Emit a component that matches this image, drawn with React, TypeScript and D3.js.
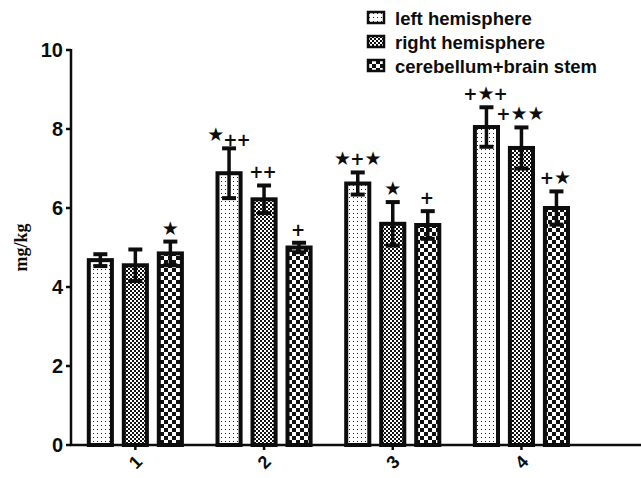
import React, { useEffect } from "react";
import * as d3 from "d3";

const groups = ["1", "2", "3", "4"];
const series = ["left hemisphere", "right hemisphere", "cerebellum+brain stem"];
const means = [
  [4.68, 4.55, 4.85],
  [6.88, 6.22, 5.0],
  [6.62, 5.6, 5.57],
  [8.05, 7.52, 6.0],
];
const errors = [
  [0.15, 0.4, 0.3],
  [0.63, 0.35, 0.12],
  [0.28, 0.55, 0.35],
  [0.5, 0.52, 0.42],
];
const marks = [
  ["", "", "★"],
  ["★++", "++", "+"],
  ["★+★", "★", "+"],
  ["+★+", "+★★", "+★"],
];
const yTicks = [0, 2, 4, 6, 8, 10];
const patternIds = ["pDots", "pFine", "pCoarse"];

const W = 641;
const H = 478;
const ink = "#0d0d0d";

function Mark({ x, y, text }: { x: number; y: number; text: string }) {
  // star first then lower plus signs (as in "★++")
  const lowered = text.startsWith("★+") && text.endsWith("++");
  return (
    <text x={x} y={y} textAnchor="middle" fill={ink} fontFamily="DejaVu Sans" fontWeight="bold">
      {text.split("").map((c, i) => (
        <tspan
          key={i}
          fontSize={c === "★" ? 19 : 17}
          dy={lowered && i === 1 ? 5 : 0}
          dx={c === "+" ? -1 : 0}
        >
          {c}
        </tspan>
      ))}
    </text>
  );
}

export default function App() {
  useEffect(() => {
    document.body.style.margin = "0";
  }, []);

  const x = d3.scaleBand<string>().domain(groups).range([71, 71 + 4 * 128.7]);
  const sub = d3
    .scaleBand<string>()
    .domain(series)
    .range([-52.5, 52.5])
    .paddingInner(0.34)
    .paddingOuter(0.17);
  const y = d3.scaleLinear().domain([0, 10]).range([445, 50]);
  const cap = 14;

  return (
    <svg width={W} height={H} style={{ display: "block", background: "#fff" }}>
      <defs>
        <pattern id="pDots" width={4} height={4} patternUnits="userSpaceOnUse">
          <rect width={4} height={4} fill="#fff" />
          <rect x={1} y={1} width={1} height={1} fill="#222" />
        </pattern>
        <pattern id="pFine" width={4} height={4} patternUnits="userSpaceOnUse">
          <rect width={4} height={4} fill="#fff" />
          <rect x={0} y={0} width={2} height={2} fill="#111" />
          <rect x={2} y={2} width={2} height={2} fill="#111" />
        </pattern>
        <pattern id="pCoarse" width={8} height={8} patternUnits="userSpaceOnUse">
          <rect width={8} height={8} fill="#fff" />
          <rect x={0} y={0} width={4} height={4} fill="#111" />
          <rect x={4} y={4} width={4} height={4} fill="#111" />
        </pattern>
      </defs>

      {/* bars */}
      {groups.map((g, gi) =>
        series.map((s, si) => {
          const cx = (x(g) as number) + x.bandwidth() / 2;
          const bx = cx + (sub(s) as number);
          const bw = sub.bandwidth();
          const mid = bx + bw / 2;
          const m = means[gi][si];
          const e = errors[gi][si];
          return (
            <g key={g + s}>
              <rect
                x={bx}
                y={y(m)}
                width={bw}
                height={y(0) - y(m)}
                fill={`url(#${patternIds[si]})`}
                stroke={ink}
                strokeWidth={4}
              />
              <line x1={mid} x2={mid} y1={y(m - e)} y2={y(m + e)} stroke={ink} strokeWidth={3.5} />
              <line x1={mid - cap / 2} x2={mid + cap / 2} y1={y(m + e)} y2={y(m + e)} stroke={ink} strokeWidth={4} />
              <line x1={mid - cap / 2} x2={mid + cap / 2} y1={y(m - e)} y2={y(m - e)} stroke={ink} strokeWidth={4} />
              {marks[gi][si] && <Mark x={mid} y={y(m + e) - 7} text={marks[gi][si]} />}
            </g>
          );
        })
      )}

      {/* y axis */}
      <line x1={71} x2={71} y1={y(10) - 1} y2={y(0)} stroke={ink} strokeWidth={2.5} />
      {yTicks.map((t) => (
        <g key={t}>
          <line x1={66} x2={71} y1={y(t)} y2={y(t)} stroke={ink} strokeWidth={2.5} />
          <text
            x={63}
            y={y(t)}
            dy="0.36em"
            textAnchor="end"
            fontFamily="Liberation Sans, Arial"
            fontWeight="bold"
            fontSize={20}
            fill={ink}
          >
            {t}
          </text>
        </g>
      ))}
      <text
        transform={`translate(27,${(y(0) + y(10)) / 2}) rotate(-90)`}
        textAnchor="middle"
        fontFamily="Liberation Serif, Times New Roman"
        fontWeight="bold"
        fontSize={18}
        fill={ink}
      >
        mg/kg
      </text>

      {/* x axis */}
      <line x1={70} x2={W} y1={y(0)} y2={y(0)} stroke={ink} strokeWidth={2.5} />
      {groups.map((g) => {
        const cx = (x(g) as number) + x.bandwidth() / 2;
        return (
          <g key={g}>
            <line x1={cx} x2={cx} y1={y(0)} y2={y(0) + 5} stroke={ink} strokeWidth={2.5} />
            <text
              transform={`translate(${cx},${y(0) + 17}) rotate(-45)`}
              textAnchor="middle"
              dy="0.35em"
              fontFamily="Liberation Sans, Arial"
              fontWeight="bold"
              fontSize={18}
              fill={ink}
            >
              {g}
            </text>
          </g>
        );
      })}

      {/* legend */}
      {series.map((s, si) => (
        <g key={s} transform={`translate(368,${12 + si * 24})`}>
          <rect x={0} y={0} width={16} height={11} fill={`url(#${patternIds[si]})`} stroke={ink} strokeWidth={2.5} />
          <text
            x={27}
            y={6}
            dy="0.36em"
            fontFamily="Liberation Sans, Arial"
            fontWeight="bold"
            fontSize={18.5}
            fill={ink}
          >
            {s}
          </text>
        </g>
      ))}
    </svg>
  );
}
